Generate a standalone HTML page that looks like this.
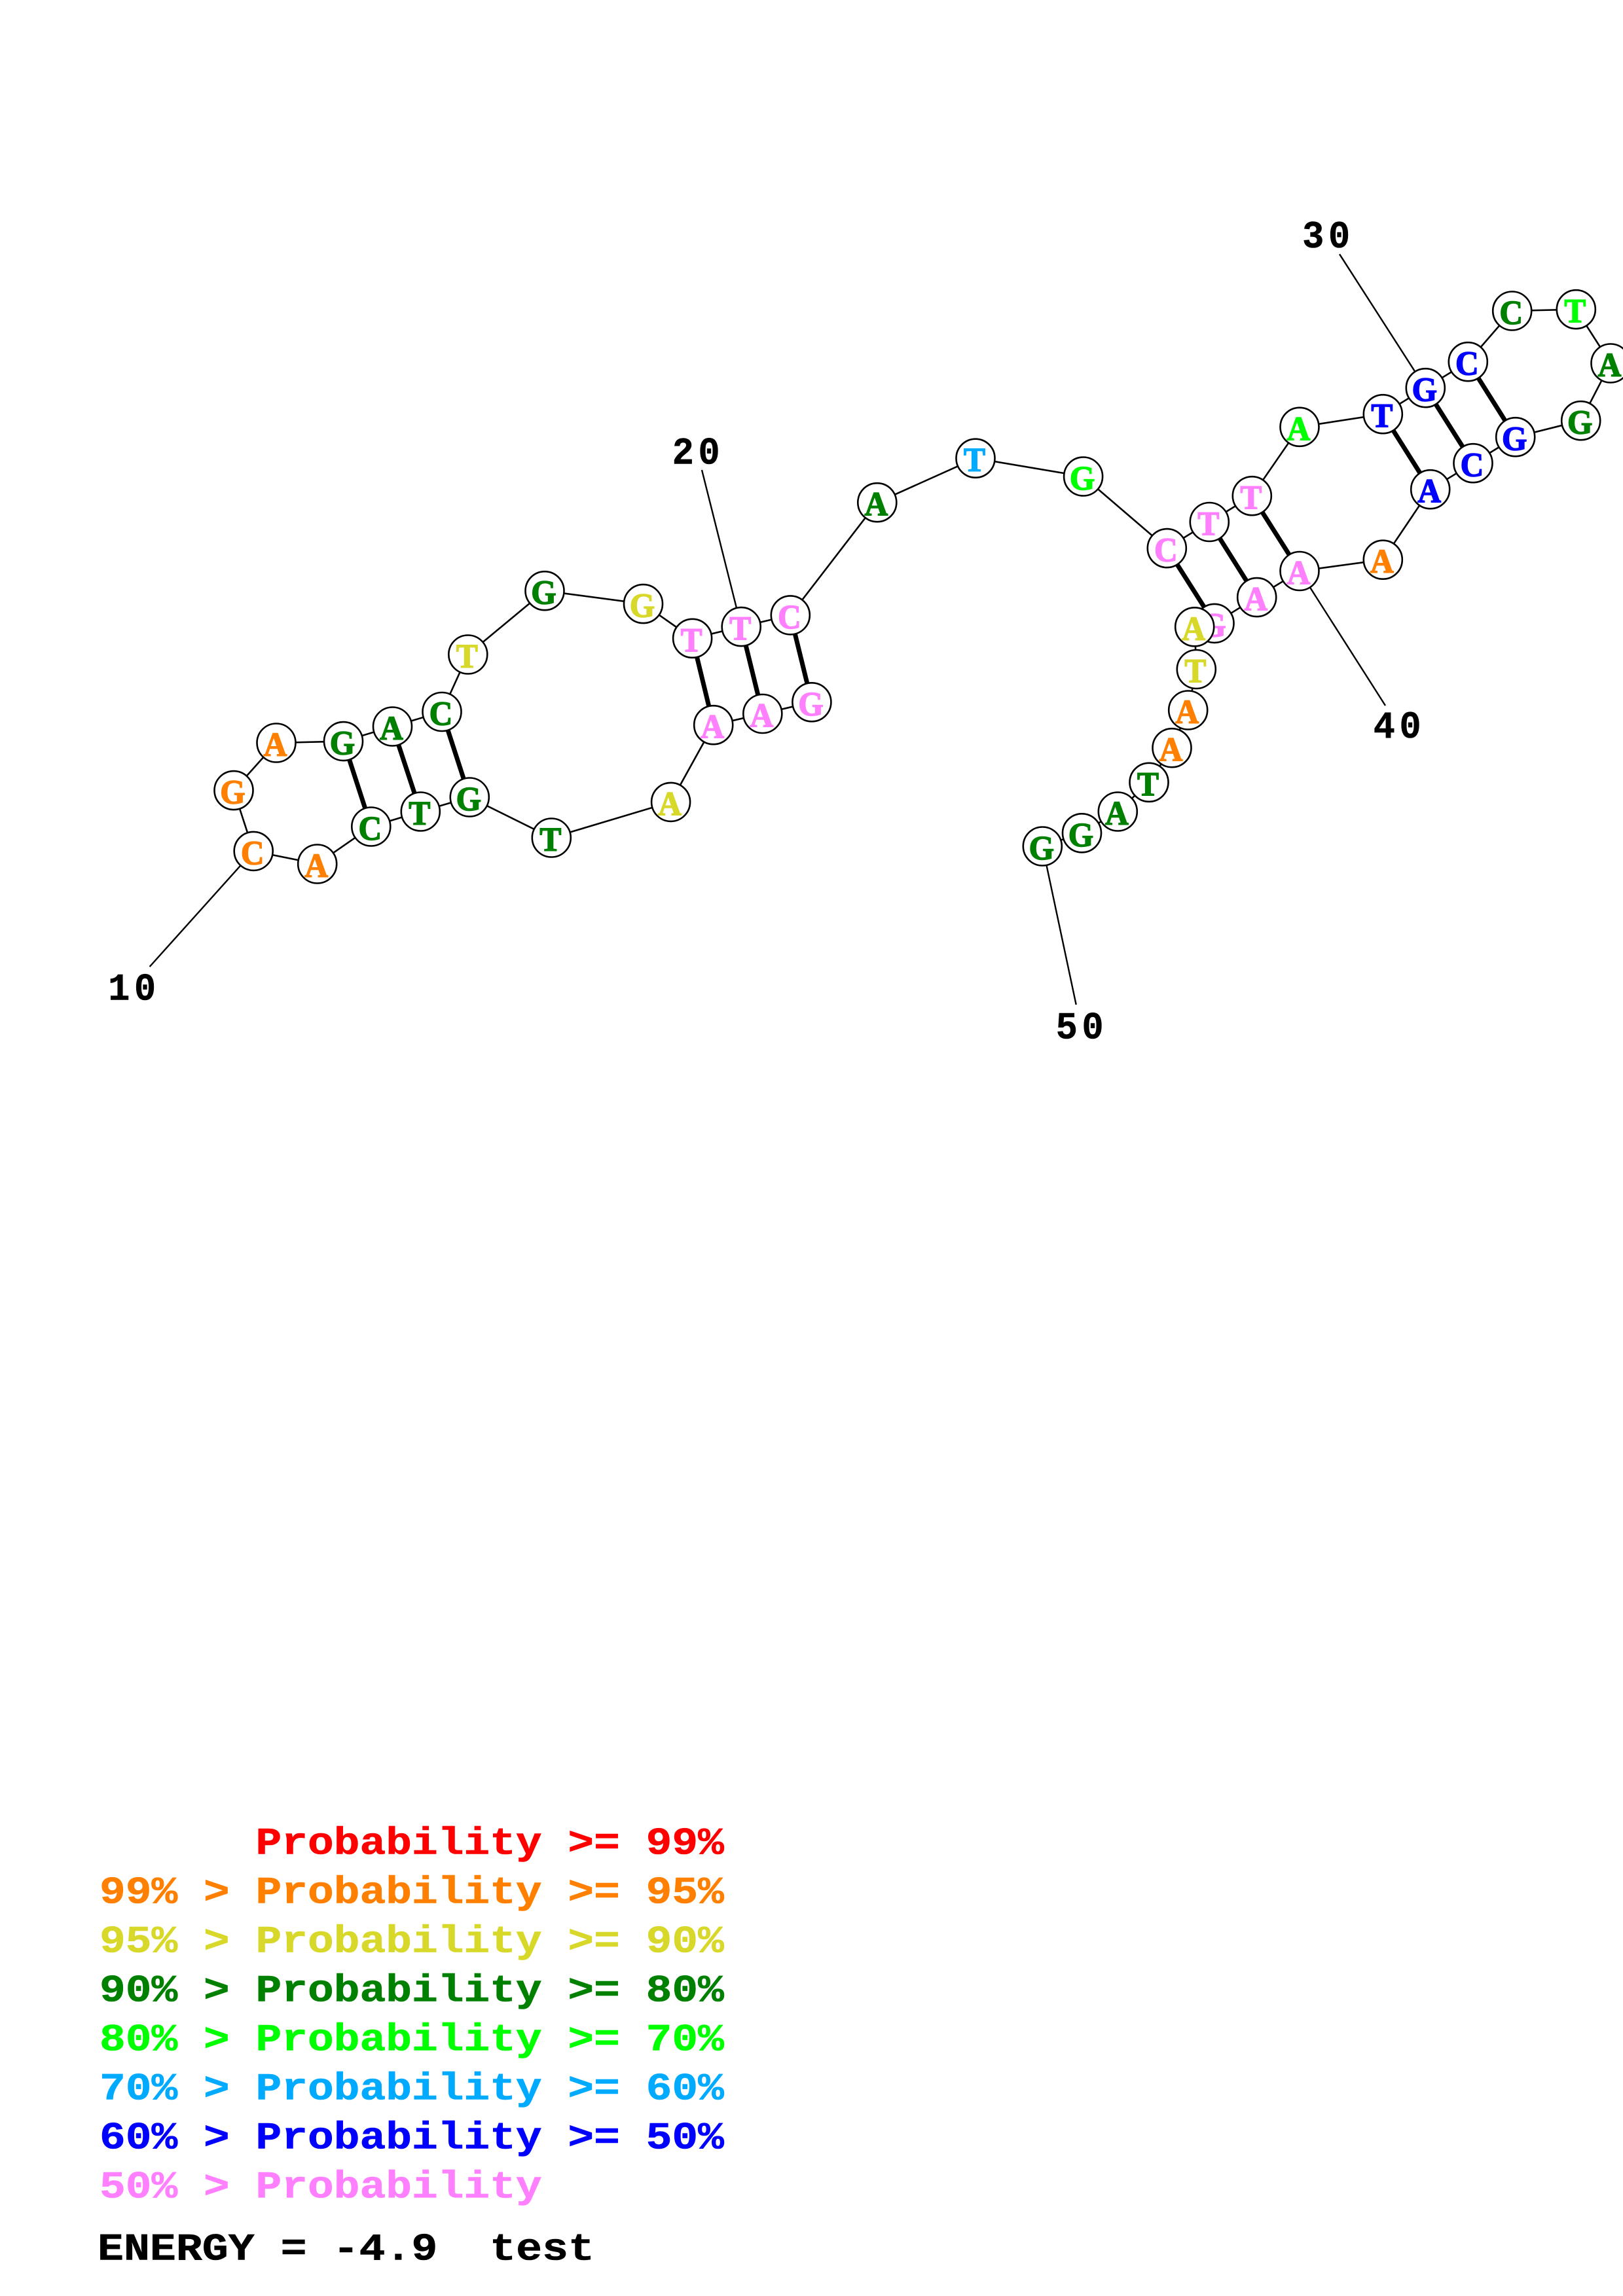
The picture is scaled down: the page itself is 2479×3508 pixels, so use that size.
<!DOCTYPE html>
<html><head><meta charset="utf-8"><style>
html,body{margin:0;padding:0;background:#fff}
svg{display:block}
text{font-weight:bold;white-space:pre}
.n{font-family:"Liberation Serif",serif;font-size:52px;text-anchor:middle;stroke-width:1.5}
.l{font-family:"Liberation Mono",monospace;font-size:58px;letter-spacing:7px;text-anchor:middle;fill:#000;stroke:#000;stroke-width:.6}
.g{font-family:"Liberation Mono",monospace;font-size:58px;stroke-width:.6}
circle{fill:#fff;stroke:#000;stroke-width:2.6}
.a{fill:#008000;stroke:#008000}.o{fill:#ff8000;stroke:#ff8000}.y{fill:#d8d82a;stroke:#d8d82a}.m{fill:#00ff00;stroke:#00ff00}.s{fill:#00aaff;stroke:#00aaff}.b{fill:#0000ff;stroke:#0000ff}.p{fill:#ff80ff;stroke:#ff80ff}.r{fill:#ff0000;stroke:#ff0000}.k{fill:#000;stroke:#000}
</style></head><body>
<svg xmlns="http://www.w3.org/2000/svg" width="2479" height="3508" viewBox="0 0 2479 3508">
<rect width="2479" height="3508" fill="#fff"/>
<polyline fill="none" stroke="#000" stroke-width="2.6" points="1239.9,1072.8 1164.8,1090.5 1089.7,1107.7 1024.6,1225.4 842.3,1280 717.3,1218 642.3,1240 566.8,1263 484.7,1320 387.2,1300.4 357,1207.6 422,1135 524.5,1132.6 599.5,1110 675,1087.5 714.8,1000 832,902.7 982.5,922.6 1057.6,975.3 1132.2,957.6 1207.3,939.9 1339.8,767.7 1490,700.2 1654.6,728 1782.3,837.6 1847.3,797.5 1912.3,757.7 1985,652.3 2112.3,632.7 2177.3,592.7 2242.3,552.7 2309.7,475 2407.3,472.7 2460,555 2414.7,642.7 2314.7,667.7 2250,707.7 2184.7,747.7 2112.3,855.2 1985,872.5 1919.7,912.6 1855,952.4 1824.7,957.8 1827.3,1022.5 1814.7,1085 1790,1142.7 1755,1195.3 1707.3,1240 1652.5,1272.8 1592.3,1293"/>
<g stroke="#000" stroke-width="7">
<line x1="524.5" y1="1132.6" x2="566.8" y2="1263"/>
<line x1="599.5" y1="1110" x2="642.3" y2="1240"/>
<line x1="675" y1="1087.5" x2="717.3" y2="1218"/>
<line x1="1057.6" y1="975.3" x2="1089.7" y2="1107.7"/>
<line x1="1132.2" y1="957.6" x2="1164.8" y2="1090.5"/>
<line x1="1207.3" y1="939.9" x2="1239.9" y2="1072.8"/>
<line x1="1782.3" y1="837.6" x2="1855" y2="952.4"/>
<line x1="1847.3" y1="797.5" x2="1919.7" y2="912.6"/>
<line x1="1912.3" y1="757.7" x2="1985" y2="872.5"/>
<line x1="2112.3" y1="632.7" x2="2184.7" y2="747.7"/>
<line x1="2177.3" y1="592.7" x2="2250" y2="707.7"/>
<line x1="2242.3" y1="552.7" x2="2314.7" y2="667.7"/>
</g>
<g stroke="#000" stroke-width="2.4">
<line x1="387.2" y1="1300.4" x2="228.6" y2="1477"/>
<line x1="1132.2" y1="957.6" x2="1072" y2="718"/>
<line x1="2177.3" y1="592.7" x2="2046" y2="388.3"/>
<line x1="1985" y1="872.5" x2="2116" y2="1078"/>
<line x1="1592.3" y1="1293" x2="1643.7" y2="1535"/>
</g>
<circle cx="1239.9" cy="1072.8" r="29.5"/><text class="n p" transform="translate(1238.4 1092.8) scale(.95 1)">G</text>
<circle cx="1164.8" cy="1090.5" r="29.5"/><text class="n p" transform="translate(1163.3 1110.5) scale(.95 1)">A</text>
<circle cx="1089.7" cy="1107.7" r="29.5"/><text class="n p" transform="translate(1088.2 1127.7) scale(.95 1)">A</text>
<circle cx="1024.6" cy="1225.4" r="29.5"/><text class="n y" transform="translate(1023.1 1245.4) scale(.95 1)">A</text>
<circle cx="842.3" cy="1280" r="29.5"/><text class="n a" transform="translate(840.8 1300) scale(.95 1)">T</text>
<circle cx="717.3" cy="1218" r="29.5"/><text class="n a" transform="translate(715.8 1238) scale(.95 1)">G</text>
<circle cx="642.3" cy="1240" r="29.5"/><text class="n a" transform="translate(640.8 1260) scale(.95 1)">T</text>
<circle cx="566.8" cy="1263" r="29.5"/><text class="n a" transform="translate(565.3 1283) scale(.95 1)">C</text>
<circle cx="484.7" cy="1320" r="29.5"/><text class="n o" transform="translate(483.2 1340) scale(.95 1)">A</text>
<circle cx="387.2" cy="1300.4" r="29.5"/><text class="n o" transform="translate(385.7 1320.4) scale(.95 1)">C</text>
<circle cx="357" cy="1207.6" r="29.5"/><text class="n o" transform="translate(355.5 1227.6) scale(.95 1)">G</text>
<circle cx="422" cy="1135" r="29.5"/><text class="n o" transform="translate(420.5 1155) scale(.95 1)">A</text>
<circle cx="524.5" cy="1132.6" r="29.5"/><text class="n a" transform="translate(523 1152.6) scale(.95 1)">G</text>
<circle cx="599.5" cy="1110" r="29.5"/><text class="n a" transform="translate(598 1130) scale(.95 1)">A</text>
<circle cx="675" cy="1087.5" r="29.5"/><text class="n a" transform="translate(673.5 1107.5) scale(.95 1)">C</text>
<circle cx="714.8" cy="1000" r="29.5"/><text class="n y" transform="translate(713.3 1020) scale(.95 1)">T</text>
<circle cx="832" cy="902.7" r="29.5"/><text class="n a" transform="translate(830.5 922.7) scale(.95 1)">G</text>
<circle cx="982.5" cy="922.6" r="29.5"/><text class="n y" transform="translate(981 942.6) scale(.95 1)">G</text>
<circle cx="1057.6" cy="975.3" r="29.5"/><text class="n p" transform="translate(1056.1 995.3) scale(.95 1)">T</text>
<circle cx="1132.2" cy="957.6" r="29.5"/><text class="n p" transform="translate(1130.7 977.6) scale(.95 1)">T</text>
<circle cx="1207.3" cy="939.9" r="29.5"/><text class="n p" transform="translate(1205.8 959.9) scale(.95 1)">C</text>
<circle cx="1339.8" cy="767.7" r="29.5"/><text class="n a" transform="translate(1338.3 787.7) scale(.95 1)">A</text>
<circle cx="1490" cy="700.2" r="29.5"/><text class="n s" transform="translate(1488.5 720.2) scale(.95 1)">T</text>
<circle cx="1654.6" cy="728" r="29.5"/><text class="n m" transform="translate(1653.1 748) scale(.95 1)">G</text>
<circle cx="1782.3" cy="837.6" r="29.5"/><text class="n p" transform="translate(1780.8 857.6) scale(.95 1)">C</text>
<circle cx="1847.3" cy="797.5" r="29.5"/><text class="n p" transform="translate(1845.8 817.5) scale(.95 1)">T</text>
<circle cx="1912.3" cy="757.7" r="29.5"/><text class="n p" transform="translate(1910.8 777.7) scale(.95 1)">T</text>
<circle cx="1985" cy="652.3" r="29.5"/><text class="n m" transform="translate(1983.5 672.3) scale(.95 1)">A</text>
<circle cx="2112.3" cy="632.7" r="29.5"/><text class="n b" transform="translate(2110.8 652.7) scale(.95 1)">T</text>
<circle cx="2177.3" cy="592.7" r="29.5"/><text class="n b" transform="translate(2175.8 612.7) scale(.95 1)">G</text>
<circle cx="2242.3" cy="552.7" r="29.5"/><text class="n b" transform="translate(2240.8 572.7) scale(.95 1)">C</text>
<circle cx="2309.7" cy="475" r="29.5"/><text class="n a" transform="translate(2308.2 495) scale(.95 1)">C</text>
<circle cx="2407.3" cy="472.7" r="29.5"/><text class="n m" transform="translate(2405.8 492.7) scale(.95 1)">T</text>
<circle cx="2460" cy="555" r="29.5"/><text class="n a" transform="translate(2458.5 575) scale(.95 1)">A</text>
<circle cx="2414.7" cy="642.7" r="29.5"/><text class="n a" transform="translate(2413.2 662.7) scale(.95 1)">G</text>
<circle cx="2314.7" cy="667.7" r="29.5"/><text class="n b" transform="translate(2313.2 687.7) scale(.95 1)">G</text>
<circle cx="2250" cy="707.7" r="29.5"/><text class="n b" transform="translate(2248.5 727.7) scale(.95 1)">C</text>
<circle cx="2184.7" cy="747.7" r="29.5"/><text class="n b" transform="translate(2183.2 767.7) scale(.95 1)">A</text>
<circle cx="2112.3" cy="855.2" r="29.5"/><text class="n o" transform="translate(2110.8 875.2) scale(.95 1)">A</text>
<circle cx="1985" cy="872.5" r="29.5"/><text class="n p" transform="translate(1983.5 892.5) scale(.95 1)">A</text>
<circle cx="1919.7" cy="912.6" r="29.5"/><text class="n p" transform="translate(1918.2 932.6) scale(.95 1)">A</text>
<circle cx="1855" cy="952.4" r="29.5"/><text class="n p" transform="translate(1853.5 972.4) scale(.95 1)">G</text>
<circle cx="1824.7" cy="957.8" r="29.5"/><text class="n y" transform="translate(1823.2 977.8) scale(.95 1)">A</text>
<circle cx="1827.3" cy="1022.5" r="29.5"/><text class="n y" transform="translate(1825.8 1042.5) scale(.95 1)">T</text>
<circle cx="1814.7" cy="1085" r="29.5"/><text class="n o" transform="translate(1813.2 1105) scale(.95 1)">A</text>
<circle cx="1790" cy="1142.7" r="29.5"/><text class="n o" transform="translate(1788.5 1162.7) scale(.95 1)">A</text>
<circle cx="1755" cy="1195.3" r="29.5"/><text class="n a" transform="translate(1753.5 1215.3) scale(.95 1)">T</text>
<circle cx="1707.3" cy="1240" r="29.5"/><text class="n a" transform="translate(1705.8 1260) scale(.95 1)">A</text>
<circle cx="1652.5" cy="1272.8" r="29.5"/><text class="n a" transform="translate(1651 1292.8) scale(.95 1)">G</text>
<circle cx="1592.3" cy="1293" r="29.5"/><text class="n a" transform="translate(1590.8 1313) scale(.95 1)">G</text>
<text class="l" transform="translate(205 1527.7) scale(.95 1)">10</text>
<text class="l" transform="translate(1066.5 708.4) scale(.95 1)">20</text>
<text class="l" transform="translate(2029 378) scale(.95 1)">30</text>
<text class="l" transform="translate(2137.5 1127) scale(.95 1)">40</text>
<text class="l" transform="translate(1652.5 1586.7) scale(.95 1)">50</text>
<text class="g r" transform="translate(152 2832.6) scale(1.142 1)">      Probability &gt;= 99%</text>
<text class="g o" transform="translate(152 2907.6) scale(1.142 1)">99% &gt; Probability &gt;= 95%</text>
<text class="g y" transform="translate(152 2982.6) scale(1.142 1)">95% &gt; Probability &gt;= 90%</text>
<text class="g a" transform="translate(152 3057.6) scale(1.142 1)">90% &gt; Probability &gt;= 80%</text>
<text class="g m" transform="translate(152 3132.6) scale(1.142 1)">80% &gt; Probability &gt;= 70%</text>
<text class="g s" transform="translate(152 3207.6) scale(1.142 1)">70% &gt; Probability &gt;= 60%</text>
<text class="g b" transform="translate(152 3282.6) scale(1.142 1)">60% &gt; Probability &gt;= 50%</text>
<text class="g p" transform="translate(152 3357.6) scale(1.142 1)">50% &gt; Probability</text>
<text class="g k" transform="translate(149 3452.5) scale(1.148 1)">ENERGY = -4.9  test</text>
</svg>
</body></html>
